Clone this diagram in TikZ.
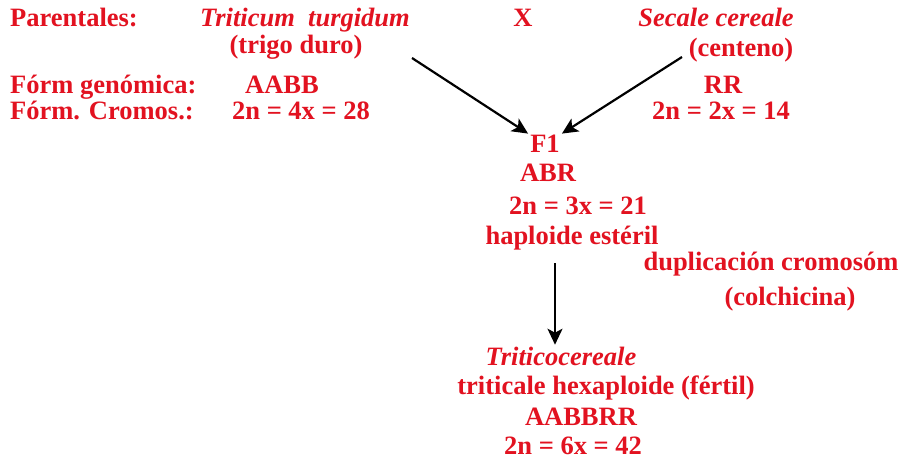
\documentclass[tikz,border=0pt]{standalone}
\usepackage{fontspec}
\setmainfont{Liberation Serif}
\usetikzlibrary{arrows.meta}
\definecolor{txtred}{RGB}{226,18,32}
\begin{document}
\begin{tikzpicture}[x=1pt,y=-1pt,
  lbl/.style={text=txtred,font=\fontsize{26.5}{28}\selectfont\bfseries,inner sep=0pt},
  lft/.style={lbl,anchor=mid west},
  ctr/.style={lbl,anchor=mid},
  arr/.style={draw=black,line width=2.2pt,-{Stealth[length=16pt,width=15pt,inset=4pt]}}]
\useasboundingbox[fill=white] (0,0) rectangle (902,463);
% row labels
\node[lft] (par) at (10,24) {Parentales:};
\node[lft] (fg)  at (10,91) {Fórm genómica:};
\node[lft] (fc)  at (10,117) {Fórm. Cromos.:};
% durum wheat
\node[ctr] (tt)  at (305,24) {\textit{Triticum\ \ turgidum}};
\node[ctr] (td)  at (296,51) {(trigo duro)};
\node[ctr] (ab)  at (282,91) {AABB};
\node[ctr] (c28) at (301,117) {2n = 4x = 28};
% cross symbol
\node[ctr] (x)   at (523,24) {X};
% rye
\node[ctr] (sc)  at (716,24) {\textit{Secale cereale}};
\node[ctr] (cen) at (741,54) {(centeno)};
\node[ctr] (rr)  at (723,91) {RR};
\node[ctr] (c14) at (721,117) {2n = 2x = 14};
% F1 hybrid
\node[ctr] (f1)  at (545,150) {F1};
\node[ctr] (abr) at (548,179) {ABR};
\node[ctr] (c21) at (578,212) {2n = 3x = 21};
\node[ctr] (hap) at (572,242) {haploide estéril};
\node[ctr] (dup) at (771,268) {duplicación cromosóm};
\node[ctr] (col) at (790,303) {(colchicina)};
% triticale
\node[ctr] (tri) at (561,363) {\textit{Triticocereale}};
\node[ctr] (hex) at (606,392) {triticale hexaploide (fértil)};
\node[ctr] (abr2) at (581,423) {AABBRR};
\node[ctr] (c42) at (573,452) {2n = 6x = 42};
% arrows
\coordinate (l0) at (412,58);
\coordinate (r0) at (682,57);
\coordinate (d0) at (555,263);
\draw[arr] (l0) -- ([shift={(-2,-1)}]f1.north west);
\draw[arr] (r0) -- ([shift={(2,-1)}]f1.north east);
\draw[arr] (d0) -- ([yshift=2pt]d0 |- tri.north);
\end{tikzpicture}
\end{document}
